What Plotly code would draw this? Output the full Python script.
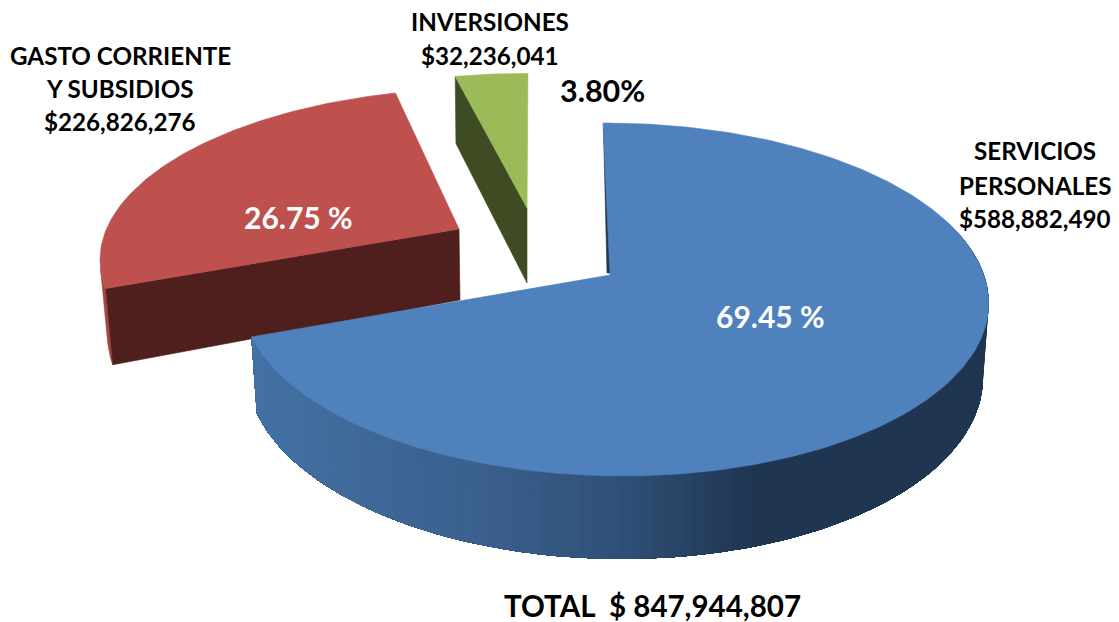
import numpy as np
import plotly.graph_objects as go

# ---- data ----
categories = ["SERVICIOS PERSONALES", "GASTO CORRIENTE Y SUBSIDIOS", "INVERSIONES"]
values = [588882490, 226826276, 32236041]
percent_labels = ["69.45 %", "26.75 %", "3.80%"]
total_value = 847944807

# ---- drawing style ----
TOP_COL = ["#4f81bd", "#be504e", "#9bbb59"]
CUT_COL = ["#203550", "#4f1f1e", "#3f4c23"]
K, A, B, SX, SY, MX = 0.139, 370.0, 173.0, -8.0, -0.5, -0.01
SLICE = [
    dict(apex=(610, 275), m=((1, 0), (0, 1)), dz=73, ys=1.05, xs=0.985),
    dict(apex=(459, 229), m=((0.965, -0.117), (-0.006, 0.924)), dz=71, ys=1.09, xs=0.98),
    dict(apex=(527, 208), m=((0.9447, -0.05), (0.0103, 0.885)), dz=75, ys=1.06, xs=0.99),
]
FONT = "Lato, Carlito, 'Open Sans', sans-serif"

fractions = np.array(values, float) / sum(values)
edges = np.concatenate([[0], np.cumsum(fractions)]) * 2 * np.pi


def rim(theta, s):
    X, Y = np.sin(theta), np.cos(theta)
    den = 1 + K * Y + MX * X
    dx = (A * X + SX * Y) / den
    dy = (-B * Y + SY * X) / den
    (a, b), (c, d) = s["m"]
    return a * dx + b * dy, c * dx + d * dy


def top(theta, s):
    dx, dy = rim(theta, s)
    return s["apex"][0] + dx, s["apex"][1] + dy


def low(theta, s):
    dx, dy = rim(theta, s)
    return s["apex"][0] + dx * s["xs"], s["apex"][1] + s["dz"] + dy * s["ys"]


def poly(x, y, color, lw=0.6):
    return go.Scatter(x=list(x), y=list(y), mode="lines", fill="toself", fillcolor=color,
                      line=dict(color=color, width=lw), hoverinfo="skip", showlegend=False)


def blue_side(x):
    stops_x = [250, 500, 640, 760, 1000]
    stops = np.array([[0x44, 0x72, 0xa5], [0x3a, 0x5f, 0x8c], [0x2e, 0x4e, 0x75],
                      [0x20, 0x35, 0x50], [0x20, 0x35, 0x50]], float)
    c = [np.interp(x, stops_x, stops[:, i]) for i in range(3)]
    return "rgb(%d,%d,%d)" % tuple(c)


fig = go.Figure()

# red slice
s = SLICE[1]
t = np.linspace(edges[1], edges[2], 120)
tx, ty = top(t, s)
t2 = np.linspace(edges[1], edges[1] + 0.12, 8)
ax, ay = top(t2, s)
bx, by = low(t2, s)
fig.add_trace(poly(np.r_[ax, bx[::-1]], np.r_[ay, by[::-1]], "#a94442"))
x0, y0 = top(np.array([edges[1]]), s)
x1, y1 = low(np.array([edges[1]]), s)
ap = s["apex"]
fig.add_trace(poly([ap[0], x0[0], x1[0], ap[0] + 1, ap[0]],
                   [ap[1], y0[0], y1[0], ap[1] + s["dz"], ap[1]], CUT_COL[1]))
fig.add_trace(poly(np.r_[ap[0], tx, ap[0]], np.r_[ap[1], ty, ap[1]], TOP_COL[1]))

# green slice
s = SLICE[2]
t = np.linspace(edges[2], edges[3], 30)
tx, ty = top(t, s)
x0, y0 = top(np.array([edges[2]]), s)
x1, y1 = low(np.array([edges[2]]), s)
ap = s["apex"]
fig.add_trace(poly([ap[0], x0[0], x1[0], ap[0], ap[0]],
                   [ap[1], y0[0], y1[0], ap[1] + s["dz"], ap[1]], CUT_COL[2]))
fig.add_trace(poly(np.r_[ap[0], tx, ap[0]], np.r_[ap[1], ty, ap[1]], TOP_COL[2]))

# blue slice: graded outer wall; each layer runs to the wall's end so no seams show
s = SLICE[0]
wall = np.linspace(np.pi * 0.40, edges[1], 130)
for i in range(len(wall) - 1):
    part = wall[i:]
    ax, ay = top(part, s)
    bx, by = low(part, s)
    fig.add_trace(poly(np.r_[ax, bx[::-1]], np.r_[ay, by[::-1]], blue_side(ax[0]), lw=0))
ap = s["apex"]
x0, y0 = top(np.array([0.0]), s)
fig.add_trace(poly([x0[0] + 0.5, ap[0] - 3, ap[0] + 1, x0[0] + 0.5],
                   [y0[0] + 5, ap[1] - 2, ap[1] - 2, y0[0] + 5], CUT_COL[0]))
t = np.linspace(edges[0], edges[1], 240)
tx, ty = top(t, s)
fig.add_trace(poly(np.r_[ap[0], tx, ap[0]], np.r_[ap[1], ty, ap[1]], TOP_COL[0]))


def note(x, y, text, size=24.2, color="#000000"):
    fig.add_annotation(x=x, y=y, text="<b>%s</b>" % text, showarrow=False, xref="x", yref="y",
                       font=dict(family=FONT, size=size, color=color), xanchor="center", yanchor="middle")


note(1035, 150, "SERVICIOS")
note(1035, 185, "PERSONALES")
note(1035, 218, "$%s" % format(values[0], ","))
note(120, 55, "GASTO CORRIENTE")
note(120, 88, "Y SUBSIDIOS")
note(120, 121, "$%s" % format(values[1], ","))
note(490, 21, categories[2])
note(490, 55, "$%s" % format(values[2], ","))
note(602, 90, percent_labels[2], 30.5)
note(770, 316, percent_labels[0], 30, "#ffffff")
note(298, 217, percent_labels[1], 30, "#ffffff")
note(652, 605, "TOTAL  $ %s" % format(total_value, ","), 29.5)

fig.update_layout(
    width=1119, height=622, margin=dict(l=0, r=0, t=0, b=0),
    paper_bgcolor="#ffffff", plot_bgcolor="#ffffff", showlegend=False,
    xaxis=dict(range=[0, 1119], visible=False, fixedrange=True),
    yaxis=dict(range=[622, 0], visible=False, fixedrange=True),
)
fig.write_html("out.html", config=dict(displayModeBar=False),
               post_script="document.body.style.margin='0';document.documentElement.style.overflow='hidden';")
